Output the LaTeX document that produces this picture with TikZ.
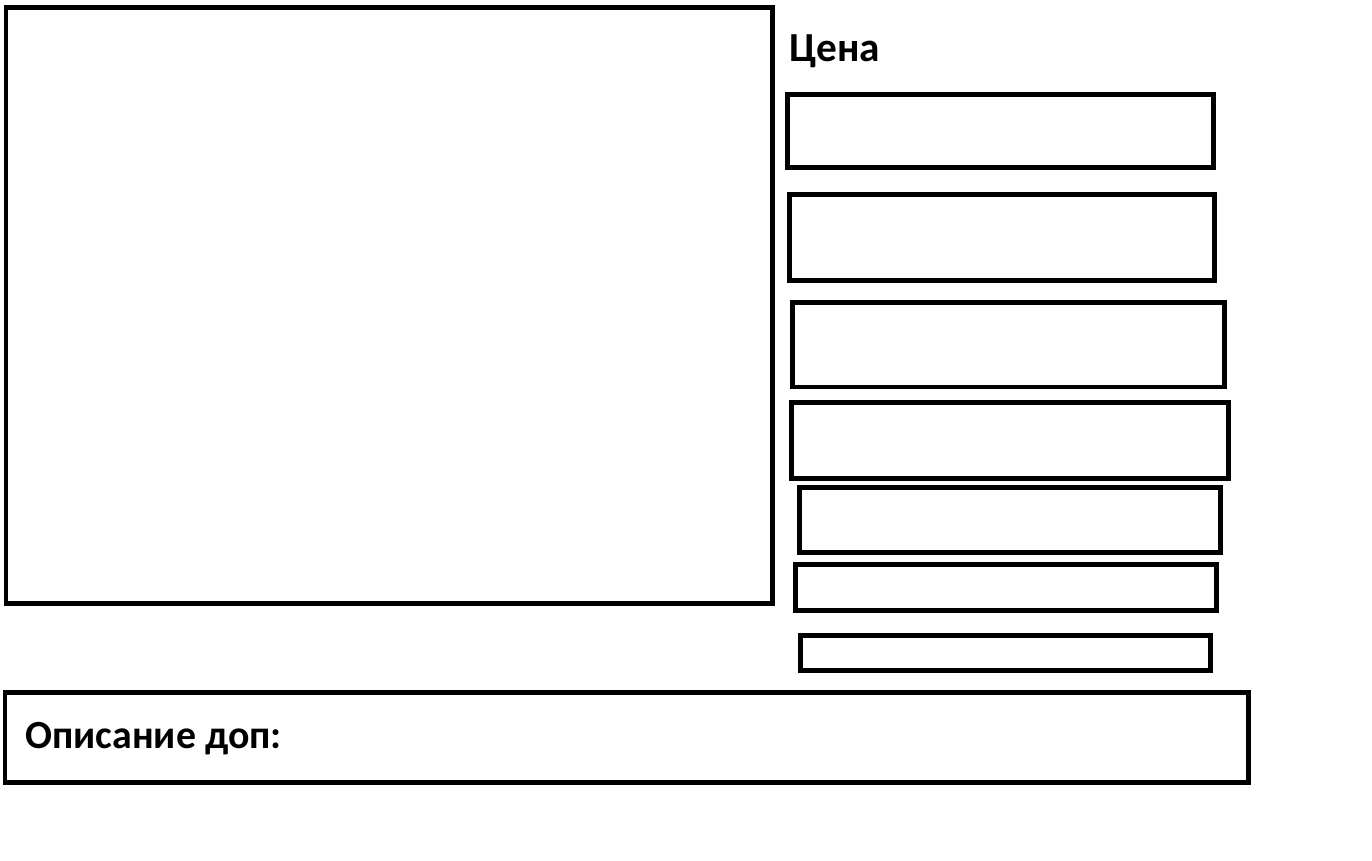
\documentclass[tikz,border=0pt]{standalone}
\usepackage{fontspec}
\setmainfont{Carlito}
\begin{document}
\begin{tikzpicture}[x=0.02cm,y=-0.02cm,
  box/.style={draw=black,line width=0.1cm,inner sep=0pt,outer sep=0pt,fill=none},
  lbl/.style={inner sep=0pt,anchor=base west,font=\bfseries}]
\useasboundingbox (0,0) rectangle (1372,861);
\node[box,minimum width=766*0.02cm,minimum height=595*0.02cm] (photo) at (389,305.5) {};
\node[box,minimum width=426*0.02cm,minimum height=73*0.02cm] (b1) at (1000,131.5) {};
\node[box,minimum width=425*0.02cm,minimum height=86*0.02cm] (b2) at (1001.5,238) {};
\node[box,minimum width=432*0.02cm,minimum height=84*0.02cm] (b3) at (1008,345) {};
\node[box,minimum width=437*0.02cm,minimum height=76*0.02cm] (b4) at (1009.5,440) {};
\node[box,minimum width=421*0.02cm,minimum height=65*0.02cm] (b5) at (1009.5,519.5) {};
\node[box,minimum width=421*0.02cm,minimum height=46*0.02cm] (b6) at (1006,587.5) {};
\node[box,minimum width=410*0.02cm,minimum height=35*0.02cm] (b7) at (1005.5,653) {};
\node[box,minimum width=1243*0.02cm,minimum height=90*0.02cm] (desc) at (626.5,737) {};
\node[lbl,font=\bfseries\fontsize{23.5pt}{28pt}\selectfont] (price) at (789,62) {Цена};
\node[lbl,font=\bfseries\fontsize{22.7pt}{26pt}\selectfont] (desclbl) at (25,748) {Описание доп:};
\end{tikzpicture}
\end{document}
